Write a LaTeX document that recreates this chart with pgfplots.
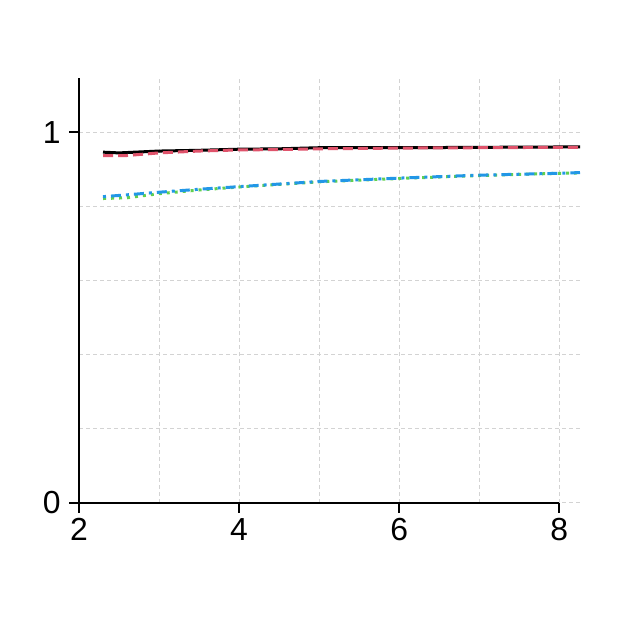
\documentclass[border=0pt]{standalone}
\usepackage{pgfplots}
\pgfplotsset{compat=1.18}
\usepackage{fontspec}
\setmainfont{Liberation Sans}
\definecolor{rred}{HTML}{DF536B}
\definecolor{rgreen}{HTML}{61D04F}
\definecolor{rblue}{HTML}{2297E6}
\definecolor{gridc}{HTML}{D3D3D3}
\begin{document}
\begin{tikzpicture}
\useasboundingbox (0,0) rectangle (620bp,619bp);
\begin{axis}[
  at={(79bp,116bp)}, anchor=south west,
  scale only axis, width=501bp, height=425bp,
  xmin=2, xmax=8.26, ymin=0, ymax=1.146,
  xtick={2,4,6,8}, ytick={0,1},
  minor xtick={3,5,7}, minor ytick={0.2,0.4,0.6,0.8},
  grid=both,
  major grid style={gridc, dash pattern=on 4bp off 3bp, line width=1bp},
  minor grid style={gridc, dash pattern=on 4bp off 3bp, line width=1bp},
  axis line style={draw=none},
  xtick pos=bottom, ytick pos=left,
  tick align=outside, major tick length=10bp, minor tick length=0pt,
  tick style={black, line width=2bp},
  ticklabel style={font=\fontsize{32}{34}\selectfont},
  /pgf/number format/assume math mode=true,
  xticklabel style={yshift=-2bp},
  yticklabel style={xshift=-5bp},
  clip=false,
]
\draw[black, line width=2bp] (axis cs:2,0) -- (axis cs:8,0);
\draw[black, line width=2bp] (axis cs:2,-0.015) -- (axis cs:2,1.146);
\addplot[black, line width=3bp] coordinates {
(2.3,0.946) (2.5,0.944) (3,0.949) (3.5,0.951) (4,0.954) (4.5,0.955) (5,0.958) (5.5,0.958) (6,0.958) (7,0.959) (8,0.960) (8.26,0.960)};
\addplot[rred, line width=3bp, dash pattern=on 10bp off 5bp] coordinates {
(2.3,0.937) (2.6,0.937) (3,0.944) (3.5,0.949) (4,0.952) (4.5,0.953) (5,0.955) (6,0.957) (7,0.958) (8,0.959) (8.26,0.959)};
\addplot[rgreen, line width=3bp, dash pattern=on 3bp off 5bp] coordinates {
(2.3,0.821) (2.6,0.823) (3,0.834) (3.5,0.844) (4,0.852) (4.5,0.859) (5,0.866) (6,0.875) (7,0.883) (8,0.889) (8.26,0.890)};
\addplot[rblue, line width=3bp, dash pattern=on 3bp off 5bp on 10bp off 5bp] coordinates {
(2.3,0.826) (2.6,0.831) (3,0.838) (3.5,0.846) (4,0.853) (4.5,0.860) (5,0.867) (6,0.876) (7,0.884) (8,0.889) (8.26,0.891)};
\end{axis}
\end{tikzpicture}
\end{document}
